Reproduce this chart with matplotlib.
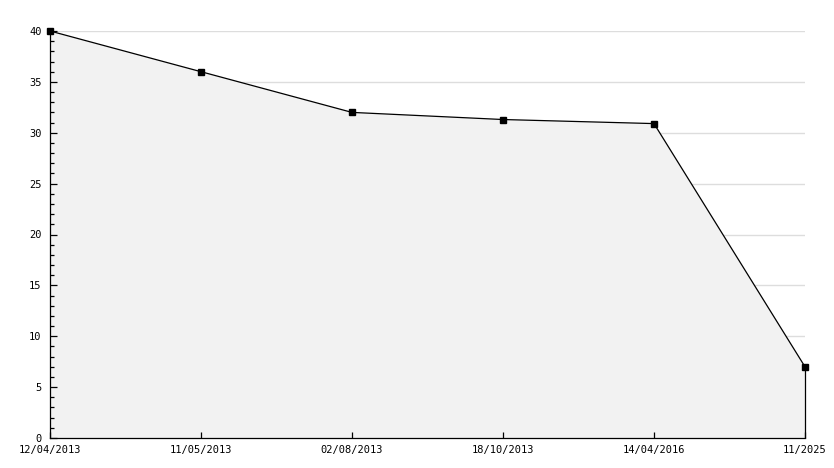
import matplotlib
matplotlib.use("Agg")
import matplotlib.pyplot as plt
from matplotlib.ticker import MultipleLocator

dates = ["12/04/2013", "11/05/2013", "02/08/2013", "18/10/2013", "14/04/2016", "11/2025"]
values = [40, 36, 32, 31.3, 30.9, 7]
grid_levels = [5, 10, 15, 20, 25, 30, 35, 40]

plt.rcParams['font.family'] = ['DejaVu Sans Mono']
fig = plt.figure(figsize=(8.34, 4.68), dpi=100)
W, H = 834, 468
ax = fig.add_axes([50 / W, (H - 438) / H, 755 / W, 407 / H])

x = list(range(len(dates)))
for g in grid_levels:
    ax.axhline(g, color="#dddddd", lw=1, zorder=0.5)
ax.fill_between(x, values, 0, color="#f2f2f2", lw=0, zorder=1)
ax.plot(x, values, color="black", lw=0.9, marker="s", markersize=4,
        zorder=3, clip_on=False)
ax.vlines(x[-1], 0, values[-1], color="black", lw=0.9, zorder=3, clip_on=False)

ax.set_xlim(0, len(dates) - 1)
ax.set_ylim(0, 40)
ax.set_xticks(x)
ax.set_xticklabels(dates)
ax.yaxis.set_major_locator(MultipleLocator(5))
ax.yaxis.set_minor_locator(MultipleLocator(1))

for s in ["top", "right"]:
    ax.spines[s].set_visible(False)
for s in ["left", "bottom"]:
    ax.spines[s].set_linewidth(0.9)
    ax.spines[s].set_zorder(4)

ax.tick_params(axis="y", which="major", direction="in", length=5, width=0.9,
               labelsize=7.5, pad=6)
ax.tick_params(axis="y", which="minor", direction="in", length=3, width=0.9)
ax.tick_params(axis="x", direction="in", length=4, width=0.9, labelsize=7.5, pad=5)

fig.savefig("out.png", dpi=100)
